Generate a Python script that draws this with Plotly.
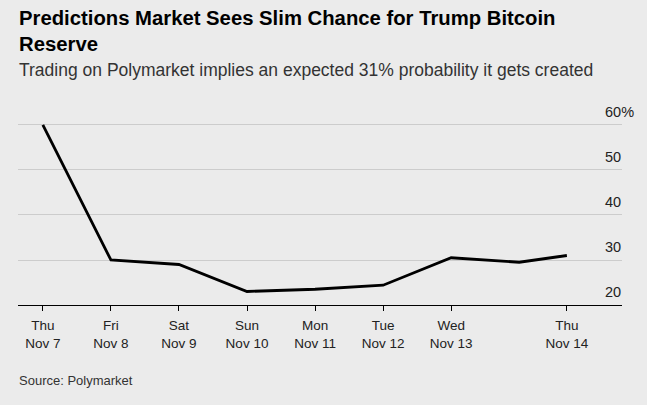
import plotly.graph_objects as go
import pandas as pd

# Data
dates = ["2024-11-07 00:00", "2024-11-08 00:00", "2024-11-09 00:00", "2024-11-10 00:00",
         "2024-11-11 00:00", "2024-11-12 00:00", "2024-11-13 00:00", "2024-11-14 00:00",
         "2024-11-14 16:48"]
probability = [60.0, 30.0, 29.0, 23.0, 23.5, 24.4, 30.5, 29.5, 31.0]

tick_dates = ["2024-11-07 00:00", "2024-11-08 00:00", "2024-11-09 00:00", "2024-11-10 00:00",
              "2024-11-11 00:00", "2024-11-12 00:00", "2024-11-13 00:00", "2024-11-14 16:48"]
tick_labels = ["Thu<br>Nov 7", "Fri<br>Nov 8", "Sat<br>Nov 9", "Sun<br>Nov 10",
               "Mon<br>Nov 11", "Tue<br>Nov 12", "Wed<br>Nov 13", "Thu<br>Nov 14"]
y_ticks = [20, 30, 40, 50, 60]
y_tick_labels = ["20", "30", "40", "50", "60%"]

title_text = "Predictions Market Sees Slim Chance for Trump Bitcoin<br>Reserve"
subtitle_text = "Trading on Polymarket implies an expected 31% probability it gets created"
source_text = "Source: Polymarket"

FONT = "Liberation Sans"
BG = "#ebebeb"

fig = go.Figure()
fig.add_trace(go.Scatter(
    x=pd.to_datetime(dates), y=probability, mode="lines",
    line=dict(color="#000000", width=2.8), hoverinfo="x+y", showlegend=False,
))

x0 = pd.Timestamp("2024-11-07") - pd.Timedelta(days=0.365)
x1 = pd.Timestamp("2024-11-07") + pd.Timedelta(days=8.51)

fig.update_layout(
    width=647, height=405,
    paper_bgcolor=BG, plot_bgcolor=BG,
    margin=dict(l=18, r=25, t=105, b=100),
    font=dict(family=FONT, color="#222222"),
    xaxis=dict(
        range=[x0, x1], tickvals=pd.to_datetime(tick_dates), ticktext=tick_labels,
        showgrid=False, zeroline=False, showline=True, linecolor="#000000", linewidth=1.3,
        ticks="outside", ticklen=5, tickwidth=1, tickcolor="#000000",
        tickfont=dict(size=13.5, color="#222222"), ticklabelstandoff=3,
    ),
    yaxis=dict(
        range=[20, 64.44], tickvals=y_ticks, showticklabels=False,
        showgrid=True, gridcolor="#cccccc", gridwidth=1.2, zeroline=False,
        fixedrange=True,
    ),
)

annotations = [
    dict(text="<b>" + title_text + "</b>", xref="paper", yref="paper", x=0, y=(305 - 5) / 200,
         xanchor="left", yanchor="top", align="left", showarrow=False,
         font=dict(size=20.3, color="#000000", family=FONT), xshift=-1),
    dict(text=subtitle_text, xref="paper", yref="paper", x=0, y=(305 - 70) / 200,
         xanchor="left", yanchor="middle", align="left", showarrow=False,
         font=dict(size=17.5, color="#333333", family=FONT), xshift=-1),
    dict(text=source_text, xref="paper", yref="paper", x=0, y=(305 - 380) / 200,
         xanchor="left", yanchor="middle", align="left", showarrow=False,
         font=dict(size=13, color="#333333", family=FONT), xshift=-1),
]
for v, lab in zip(y_ticks, y_tick_labels):
    annotations.append(dict(
        text=lab, xref="paper", yref="y", x=1, y=v, xanchor="left", yanchor="middle",
        xshift=-19, yshift=13, showarrow=False,
        font=dict(size=14.5, color="#222222", family=FONT),
    ))
fig.update_layout(annotations=annotations)

fig.write_html("out.html", config={"displayModeBar": False},
               post_script="document.body.style.margin='0';")
